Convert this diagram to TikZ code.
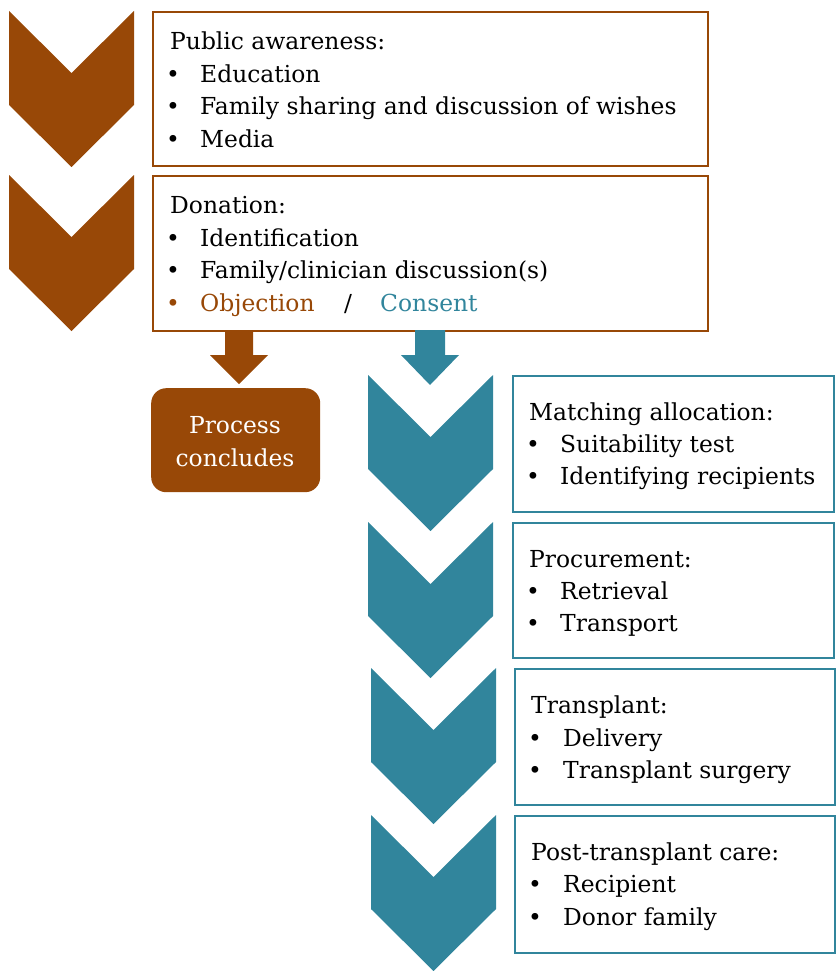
\documentclass[tikz,border=0pt]{standalone}
\usepackage{fontspec}
\setmainfont{DejaVu Serif}
\definecolor{brn}{HTML}{984807}
\definecolor{tl}{HTML}{31859C}
\newcommand\drawchev[4]{% x-left, x-right, y-top, colour
  \fill[#4] (#1,#3) -- ({(#1+#2)/2},#3+62) -- (#2,#3) -- (#2,#3+94)
    -- ({(#1+#2)/2},#3+156) -- (#1,#3+94) -- cycle;}
\begin{document}
\begin{tikzpicture}[x=1pt,y=-1pt,
  stagebox/.style={draw=#1, line width=2pt, fill=white, anchor=north west, inner sep=0pt},
  txt/.style={anchor=base west, inner sep=0pt, font=\fontsize{23.4}{32}\selectfont},
  bul/.style={anchor=base, inner sep=0pt, font=\fontsize{23.4}{32}\selectfont},
  endbox/.style={fill=brn, rounded corners=15pt, anchor=north west, inner sep=0pt}]
\useasboundingbox (0,0) rectangle (835,971);

% chevrons
\drawchev{9}{134}{11}{brn}
\drawchev{9}{134}{175}{brn}
\drawchev{368}{493}{375}{tl}
\drawchev{368}{493}{522}{tl}
\drawchev{371}{496}{668}{tl}
\drawchev{371}{496}{815}{tl}

% boxes
\node[stagebox=brn, minimum width=555pt, minimum height=154pt] (pa) at (152,11) {};
\node[stagebox=brn, minimum width=555pt, minimum height=155pt] (don) at (152,175) {};
\node[stagebox=tl, minimum width=321pt, minimum height=136pt] (ma) at (512,375) {};
\node[stagebox=tl, minimum width=321pt, minimum height=135pt] (pr) at (512,522) {};
\node[stagebox=tl, minimum width=320pt, minimum height=136pt] (tr) at (514,668) {};
\node[stagebox=tl, minimum width=320pt, minimum height=137pt] (pt) at (514,815) {};
\node[endbox, minimum width=169pt, minimum height=104pt] (pc) at (151,388) {};

% block arrows from the donation box
\fill[brn] (225,330) -- (225,355) -- (210,355) -- (239,384) -- (268,355) -- (253,355) -- (253,330) -- cycle;
\fill[tl] (415,330) -- (415,355) -- (401,355) -- (430,385) -- (459,355) -- (445,355) -- (445,330) -- cycle;

% box 1 text
\node[txt] (pa0) at (170,50) {Public awareness:};
\node[bul] (pab1) at (173,83) {•};
\node[txt] (pa1) at (200,83) {Education};
\node[bul] (pab2) at (173,115) {•};
\node[txt] (pa2) at (200,115) {Family sharing and discussion of wishes};
\node[bul] (pab3) at (173,147) {•};
\node[txt] (pa3) at (200,147) {Media};

% box 2 text
\node[txt] (do0) at (170,213) {Donation:};
\node[bul] (dob1) at (173,246) {•};
\node[txt] (do1) at (200,246) {Identification};
\node[bul] (dob2) at (173,278) {•};
\node[txt] (do2) at (200,278) {Family/clinician discussion(s)};
\node[bul, text=brn] (dob3) at (173,311) {•};
\node[txt, text=brn] (do3) at (200,311) {Objection};
\node[bul] (dosl) at (348,311) {/};
\node[txt, text=tl] (do4) at (380,311) {Consent};

% process concludes
\node[bul, text=white] (pc1) at (235,433) {Process};
\node[bul, text=white] (pc2) at (235,466) {concludes};

% matching allocation
\node[txt] (ma0) at (529,420) {Matching allocation:};
\node[bul] (mab1) at (533,452) {•};
\node[txt] (ma1) at (560,452) {Suitability test};
\node[bul] (mab2) at (533,484) {•};
\node[txt] (ma2) at (560,484) {Identifying recipients};

% procurement
\node[txt] (pr0) at (529,567) {Procurement:};
\node[bul] (prb1) at (533,599) {•};
\node[txt] (pr1) at (560,599) {Retrieval};
\node[bul] (prb2) at (533,631) {•};
\node[txt] (pr2) at (560,631) {Transport};

% transplant
\node[txt] (tr0) at (531,713) {Transplant:};
\node[bul] (trb1) at (535,746) {•};
\node[txt] (tr1) at (563,746) {Delivery};
\node[bul] (trb2) at (535,778) {•};
\node[txt] (tr2) at (563,778) {Transplant surgery};

% post-transplant care
\node[txt] (pt0) at (531,860) {Post-transplant care:};
\node[bul] (ptb1) at (535,892) {•};
\node[txt] (pt1) at (563,892) {Recipient};
\node[bul] (ptb2) at (535,925) {•};
\node[txt] (pt2) at (563,925) {Donor family};
\end{tikzpicture}
\end{document}
